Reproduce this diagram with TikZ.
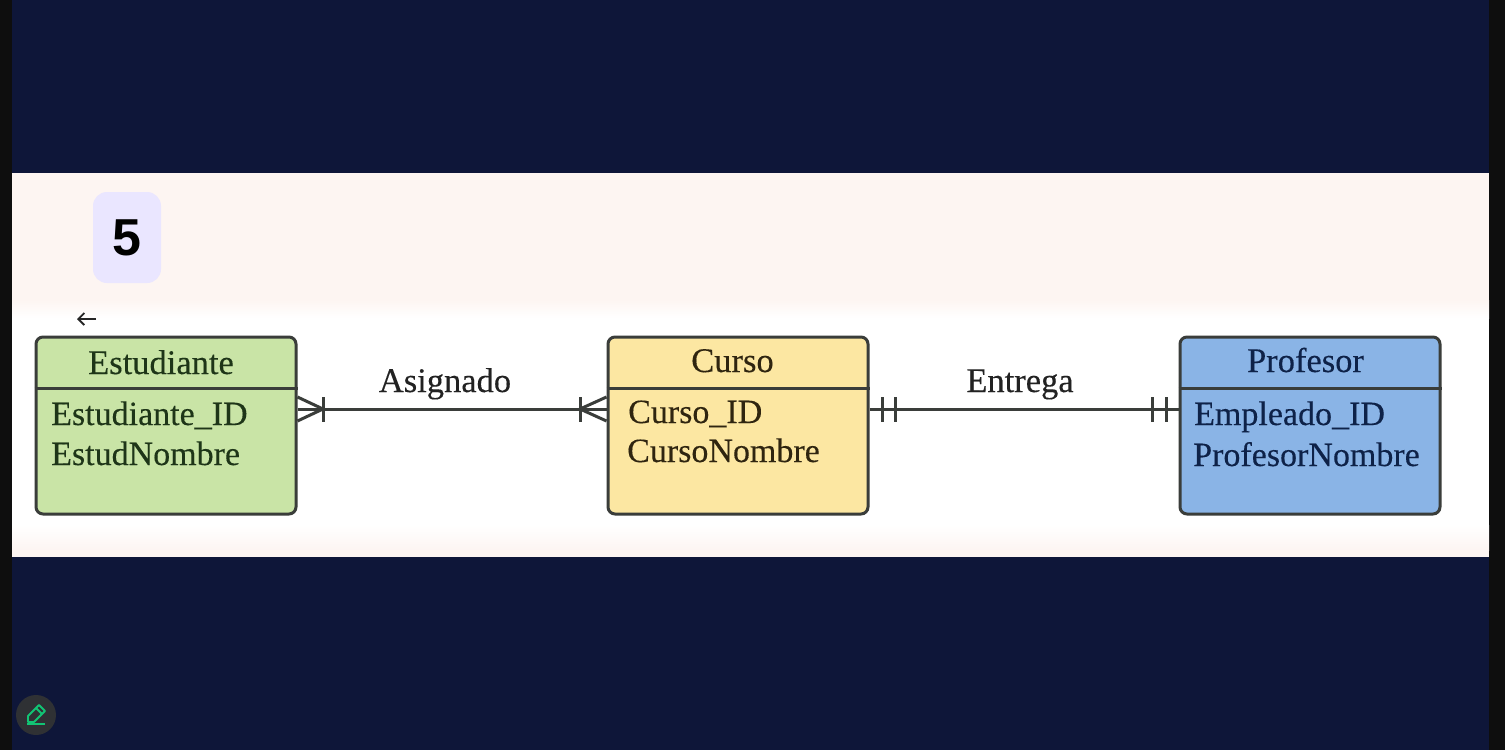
\documentclass[tikz,border=0pt]{standalone}
\usepackage{fontspec}
\usepackage{xcolor}
\setmainfont{Liberation Serif}
\setsansfont{Liberation Sans}
\newfontfamily\letracaja[FakeBold=0.25]{Liberation Serif}
\usetikzlibrary{arrows.meta,positioning}

\definecolor{fondoazul}{HTML}{0E1639}
\definecolor{bordenegro}{HTML}{0E0E0E}
\definecolor{fondorosa}{HTML}{FDF5F2}
\definecolor{insignia}{HTML}{EAE6FF}
\definecolor{verdecaja}{HTML}{C9E4A6}
\definecolor{amarillocaja}{HTML}{FCE7A2}
\definecolor{azulcaja}{HTML}{8AB4E6}
\definecolor{linea}{HTML}{3A3D3A}
\definecolor{botongris}{HTML}{2F3134}
\definecolor{lapiz}{HTML}{12C474}
\definecolor{textoverde}{HTML}{1E3518}
\definecolor{textoamarillo}{HTML}{2F2510}
\definecolor{textoazul}{HTML}{0E2248}
\definecolor{textonegro}{HTML}{222222}

\tikzset{
    entidad/.style={draw=linea,line width=3pt,rounded corners=7pt,minimum width=260pt,minimum height=177pt},
    texto/.style={anchor=base west,inner sep=0pt,font=\letracaja\fontsize{34}{40}\selectfont},
    titulo/.style={anchor=base,inner sep=0pt,font=\letracaja\fontsize{34.5}{40}\selectfont},
    enlace/.style={draw=linea,line width=3pt},
    marca/.style={draw=linea,line width=3pt}
}

\begin{document}
\begin{tikzpicture}[x=1pt,y=-1pt]
    \useasboundingbox (0,0) rectangle (1505,750);
    % Background
    \fill[bordenegro] (0,0) rectangle (1505,750);
    \fill[fondoazul] (12,0) rectangle (1489,750);
    \fill[fondorosa] (12,173) rectangle (1489,557);
    \fill[white] (12,318) rectangle (1489,525);
    \shade[top color=fondorosa,bottom color=white] (12,300) rectangle (1489,318);
    \shade[top color=white,bottom color=fondorosa] (12,525) rectangle (1489,550);
    % Badge
    \node[fill=insignia,rounded corners=14pt,minimum width=68pt,minimum height=91pt,inner sep=0pt] (insignia5) at (127,237.5) {};
    \node[inner sep=0pt,text=black,font=\sffamily\bfseries\fontsize{52}{60}\selectfont] (numero) at (127,238) {5};
    % Back arrow
    \coordinate (flechaA) at (96,319);
    \coordinate (flechaB) at (77,319);
    \draw[-{Straight Barb[length=6pt,width=12pt]},line width=1.8pt,black!85] (flechaA) -- (flechaB);
    % Entities
    \node[entidad,fill=verdecaja] (estudiante) at (166,425.5) {};
    \node[entidad,fill=amarillocaja] (curso) at (738,425.5) {};
    \node[entidad,fill=azulcaja] (profesor) at (1310,425.5) {};
    % Dividers
    \draw[enlace] (estudiante.west |- 0,388) -- (estudiante.east |- 0,388);
    \draw[enlace] (curso.west |- 0,388) -- (curso.east |- 0,388);
    \draw[enlace] (profesor.west |- 0,388) -- (profesor.east |- 0,388);
    % Titles
    \node[titulo,text=textoverde] (tituloE) at (161,374) {Estudiante};
    \node[titulo,text=textoamarillo] (tituloC) at (732.5,372) {Curso};
    \node[titulo,text=textoazul] (tituloP) at (1305.5,372) {Profesor};
    % Attributes
    \node[texto,text=textoverde] (estId) at (51,425) {Estudiante\_ID};
    \node[texto,text=textoverde] (estNom) at (51,465) {EstudNombre};
    \node[texto,text=textoamarillo] (curId) at (628,423) {Curso\_ID};
    \node[texto,text=textoamarillo] (curNom) at (627,462) {CursoNombre};
    \node[texto,text=textoazul] (profId) at (1194,425) {Empleado\_ID};
    \node[texto,text=textoazul] (profNom) at (1193,466) {ProfesorNombre};
    % Asignado
    \coordinate (asigA) at (estudiante.east |- 0,409);
    \coordinate (asigB) at (curso.west |- 0,409);
    \draw[enlace] (asigA) -- (asigB);
    \node[titulo,text=textonegro] (asignado) at (445,392) {Asignado};
    \draw[marca] (323,397) -- (323,422);
    \draw[marca] (asigA |- 0,397) -- (323,409) -- (asigA |- 0,421);
    \draw[marca] (580,397) -- (580,422);
    \draw[marca] (asigB |- 0,397) -- (580,409) -- (asigB |- 0,421);
    % Entrega
    \coordinate (entrA) at (curso.east |- 0,409);
    \coordinate (entrB) at (profesor.west |- 0,409);
    \draw[enlace] (entrA) -- (entrB);
    \node[titulo,text=textonegro] (entrega) at (1020,392) {Entrega};
    \draw[marca] (882,397) -- (882,422);
    \draw[marca] (895,397) -- (895,422);
    \draw[marca] (1152,397) -- (1152,422);
    \draw[marca] (1166,397) -- (1166,422);
    % Edit button
    \node[circle,fill=botongris,minimum size=40pt,inner sep=0pt] (boton) at (36,715) {};
    \draw[lapiz,line width=1.8pt,line join=round] (28,722) -- (28,716) -- (39,705) -- (45,711) -- (34,722) -- cycle;
    \draw[lapiz,line width=1.8pt] (36,708) -- (42,714);
    \draw[lapiz,line width=1.8pt] (27,724) -- (45,724);
\end{tikzpicture}
\end{document}
